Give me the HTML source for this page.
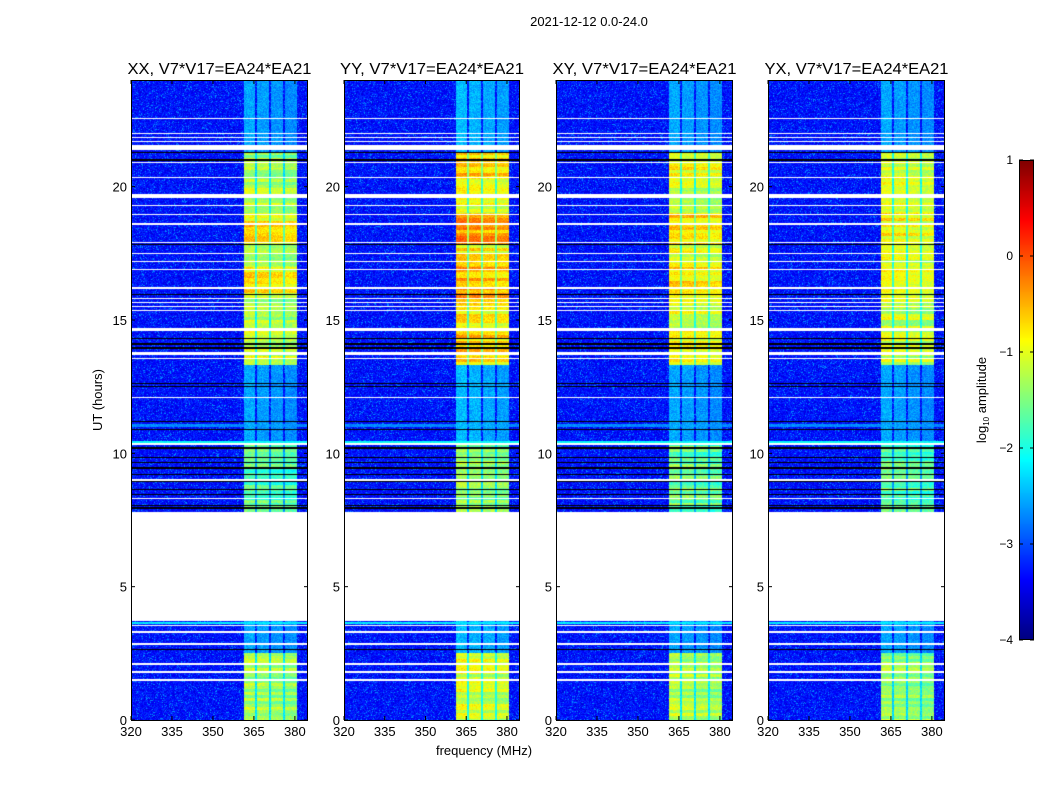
<!DOCTYPE html>
<html><head><meta charset="utf-8">
<style>
body{margin:0;background:#fff;width:1050px;height:800px;overflow:hidden;position:relative;font-family:"Liberation Sans",sans-serif}
canvas{position:absolute}
svg{position:absolute;left:0;top:0}
</style></head>
<body>
<canvas id="c0" width="177" height="640" style="left:131px;top:80px"></canvas>
<canvas id="c1" width="176" height="640" style="left:344px;top:80px"></canvas>
<canvas id="c2" width="177" height="640" style="left:556px;top:80px"></canvas>
<canvas id="c3" width="177" height="640" style="left:768px;top:80px"></canvas>
<canvas id="cb" width="15" height="480" style="left:1019px;top:160px"></canvas>
<svg id="ov" width="1050" height="800"></svg>
<script>
// ---- data ----
const panelTitles = ["XX, V7*V17=EA24*EA21","YY, V7*V17=EA24*EA21","XY, V7*V17=EA24*EA21","YX, V7*V17=EA24*EA21"];
const freqTicks = [320,335,350,365,380];
const hourTicks = [0,5,10,15,20];
const cbTicks = [1,0,-1,-2,-3,-4];
// band columns (MHz start, end)
const bandCols = [[361.3,365.3],[366.2,370.5],[371.2,375.5],[376.3,380.6]];
// band level segments per panel: [startHour,endHour,log10 amplitude]
const bandXX = [[0,2.5,-1.35],[2.5,3.7,-2.6],[7.8,10.3,-1.7],[10.3,13.3,-2.6],[13.3,14.6,-1.1],[14.6,15.8,-1.2],[15.8,17.0,-0.85],[17.0,17.8,-1.15],[17.8,19.0,-0.8],[19.0,20.3,-1.25],[20.3,21.3,-1.4],[21.3,24,-2.6]];
const bandYY = [[0,2.5,-1.1],[2.5,3.7,-2.5],[7.8,10.3,-1.4],[10.3,13.3,-2.5],[13.3,14.6,-0.65],[14.6,15.8,-0.85],[15.8,17.0,-0.5],[17.0,17.8,-0.8],[17.8,19.0,-0.4],[19.0,20.3,-0.95],[20.3,21.3,-0.6],[21.3,24,-2.5]];
const bandXY = [[0,2.5,-1.3],[2.5,3.7,-2.6],[7.8,10.3,-1.6],[10.3,13.3,-2.6],[13.3,14.6,-0.85],[14.6,15.8,-1.05],[15.8,17.0,-0.7],[17.0,17.8,-1.05],[17.8,19.0,-0.7],[19.0,20.3,-1.15],[20.3,21.3,-0.9],[21.3,24,-2.6]];
const bandYX = [[0,2.5,-1.4],[2.5,3.7,-2.6],[7.8,10.3,-1.7],[10.3,13.3,-2.6],[13.3,14.6,-1.15],[14.6,15.8,-1.15],[15.8,17.0,-1.0],[17.0,17.8,-1.15],[17.8,19.0,-0.9],[19.0,20.3,-1.15],[20.3,21.3,-1.1],[21.3,24,-2.6]];
const bandLevels = [bandXX,bandYY,bandXY,bandYX];
const backgroundLevel = -3.3;
// no-data interval (hours)
const noData = [[3.72,7.8]];
// flagged white lines: [hour, thickness in hours]
const whiteLines = [[22.55,0.05],[22.0,0.05],[21.85,0.05],[21.7,0.05],[21.48,0.2],[20.9,0.05],[20.35,0.05],[19.65,0.15],[19.3,0.05],[18.95,0.05],[18.6,0.05],[17.9,0.05],[17.5,0.05],[17.2,0.05],[16.9,0.05],[16.2,0.05],[15.8,0.05],[15.65,0.05],[15.5,0.05],[15.35,0.05],[14.65,0.12],[13.75,0.12],[13.55,0.05],[12.1,0.05],[10.35,0.05],[9.0,0.05],[8.3,0.05],[3.55,0.06],[3.3,0.05],[2.85,0.05],[2.1,0.05],[1.8,0.05],[1.5,0.06]];
// black lines (hours)
const blackLines = [[21.27,0.04],[21.0,0.04],[17.82,0.04],[15.95,0.04],[14.3,0.04],[14.1,0.04],[13.95,0.04],[12.62,0.04],[12.5,0.04],[11.2,0.04],[10.9,0.04],[10.2,0.04],[9.85,0.04],[9.65,0.04],[9.45,0.04],[9.2,0.04],[8.95,0.04],[8.65,0.04],[8.45,0.04],[8.05,0.04],[7.95,0.04],[2.65,0.04]];
// brighter broadband rows: [hour, thickness, log amplitude]
const brightRows = [[10.42,0.08,-2.1],[3.65,0.08,-2.2],[11.05,0.12,-2.7]];

// ---- helpers ----
const fMin=320,fMax=384.8,hMin=0,hMax=24;
const panelX=[131,344,556,768], panelW=[177,176,177,177], panelTop=80, panelH=640;
function xScale(p,f){return panelX[p]+(f-fMin)/(fMax-fMin)*panelW[p];}
function yScale(h){return panelTop+panelH-(h-hMin)/(hMax-hMin)*panelH;}
function jet(v){v=Math.max(0,Math.min(1,v));const c=x=>Math.round(255*Math.max(0,Math.min(1,x)));
 return [c(1.5-Math.abs(4*v-3)),c(1.5-Math.abs(4*v-2)),c(1.5-Math.abs(4*v-1))];}
function lv(l){return (l+4)/5;}
function hash(a,b,c){let n=a*374761393+b*668265263+c*2147483647;n=(n^(n>>>13))*1274126177;n=n^(n>>>16);return ((n>>>0)%10000)/10000;}
function inList(list,h){for(const s of list){if(Math.abs(h-s[0])<=s[1]/2+0.0001)return s;}return null;}

for(let p=0;p<4;p++){
 const cv=document.getElementById('c'+p),ctx=cv.getContext('2d');
 const W=cv.width,H=cv.height,img=ctx.createImageData(W,H);
 for(let y=0;y<H;y++){
  const h=hMax-(y+0.5)/H*(hMax-hMin);
  let mode='data';
  for(const nd of noData) if(h>=nd[0]&&h<=nd[1]) mode='white';
  if(inList(whiteLines,h)) mode='white';
  if(inList(blackLines,h)) mode='black';
  const br=inList(brightRows,h);
  let band=-3.3; for(const s of bandLevels[p]) if(h>=s[0]&&h<s[1]) band=s[2];
  const rowN=(hash(p,Math.floor(y/3),7)-0.5)*0.6;
  for(let x=0;x<W;x++){
   const i=(y*W+x)*4; let col;
   if(mode==='white') col=[255,255,255];
   else if(mode==='black') col=[0,0,0];
   else{
    const f=fMin+(x+0.5)/W*(fMax-fMin);
    const r=hash(x,y,p);
    let l=backgroundLevel+(r-0.5)*0.55+(r>0.93?0.35:0);
    if(br) l=Math.max(l,br[2]+(hash(x,y,p+9)-0.5)*0.3);
    let ci=-1; bandCols.forEach((c,k)=>{if(f>=c[0]&&f<=c[1]) ci=k;});
    if(ci>=0){
     const colOff=[0.05,0,-0.05,-0.1][ci];
     const bl=band+(hash(x,y,p+3)-0.5)*0.4+(band>-2?rowN:0)+colOff;
     l=Math.max(l,bl);
    } else if(f>=bandCols[0][0]&&f<=bandCols[3][1]){
     l=Math.max(l,band-0.9+(hash(x,y,p+5)-0.5)*0.3);
    }
    col=jet(lv(l));
   }
   img.data[i]=col[0];img.data[i+1]=col[1];img.data[i+2]=col[2];img.data[i+3]=255;
  }
 }
 ctx.putImageData(img,0,0);
}
// colorbar
(function(){const cv=document.getElementById('cb'),ctx=cv.getContext('2d');
 for(let y=0;y<480;y++){const c=jet(1-y/479);ctx.fillStyle='rgb('+c+')';ctx.fillRect(0,y,15,1);}})();

// overlay
const NS='http://www.w3.org/2000/svg', ov=document.getElementById('ov');
function mk(tag,attrs,text){const e=document.createElementNS(NS,tag);for(const k in attrs)e.setAttribute(k,attrs[k]);if(text!==undefined)e.textContent=text;ov.appendChild(e);return e;}
let t=mk('text',{x:589,y:26,'text-anchor':'middle','font-size':13,fill:'#000'},'2021-12-12 0.0-24.0');


for(let p=0;p<4;p++){
 const x0=panelX[p],w=panelW[p];
 const fr=mk('rect',{x:x0+0.5,y:panelTop+0.5,width:w-1,height:panelH,fill:'none',stroke:'#000','stroke-width':1});
 
 
 const ti=mk('text',{x:x0+w/2,y:74,'text-anchor':'middle','font-size':16,fill:'#000',textLength:184,lengthAdjust:'spacingAndGlyphs'},panelTitles[p]);
 
 
 for(const f of freqTicks){const x=xScale(p,f);
  mk('line',{x1:x,x2:x,y1:720,y2:716,stroke:'#000'});mk('line',{x1:x,x2:x,y1:80,y2:84,stroke:'#000'});
  const tl=mk('text',{x:x,y:736,'text-anchor':'middle','font-size':13,fill:'#000'},String(f));
  
  }
 for(const h of hourTicks){const y=yScale(h);
  mk('line',{x1:x0,x2:x0+4,y1:y,y2:y,stroke:'#000'});mk('line',{x1:x0+w-4,x2:x0+w,y1:y,y2:y,stroke:'#000'});
  const tl=mk('text',{x:x0-4,y:y+5,'text-anchor':'end','font-size':13,fill:'#000'},String(h));
  
  }
}
const xl=mk('text',{x:484,y:755,'text-anchor':'middle','font-size':13,fill:'#000'},'frequency (MHz)');


const yl=mk('text',{x:102,y:400,'text-anchor':'middle','font-size':13,fill:'#000',transform:'rotate(-90 102 400)'},'UT (hours)');


const cbf=mk('rect',{x:1019.5,y:160.5,width:14,height:479,fill:'none',stroke:'#000'});


for(const v of cbTicks){const y=160+(1-v)/5*480;
 mk('line',{x1:1019,x2:1023,y1:y,y2:y,stroke:'#000'});mk('line',{x1:1030,x2:1034,y1:y,y2:y,stroke:'#000'});
 const tl=mk('text',{x:1013,y:y+4,'text-anchor':'end','font-size':12,fill:'#000'},v<0?'\u2212'+(-v):String(v));
 
 }
const cl=mk('text',{x:986,y:400,'text-anchor':'middle','font-size':13,fill:'#000',transform:'rotate(-90 986 400)'});


cl.innerHTML='log<tspan font-size="8" dy="3">10</tspan><tspan dy="-3"> amplitude</tspan>';
</script>
</body></html>
